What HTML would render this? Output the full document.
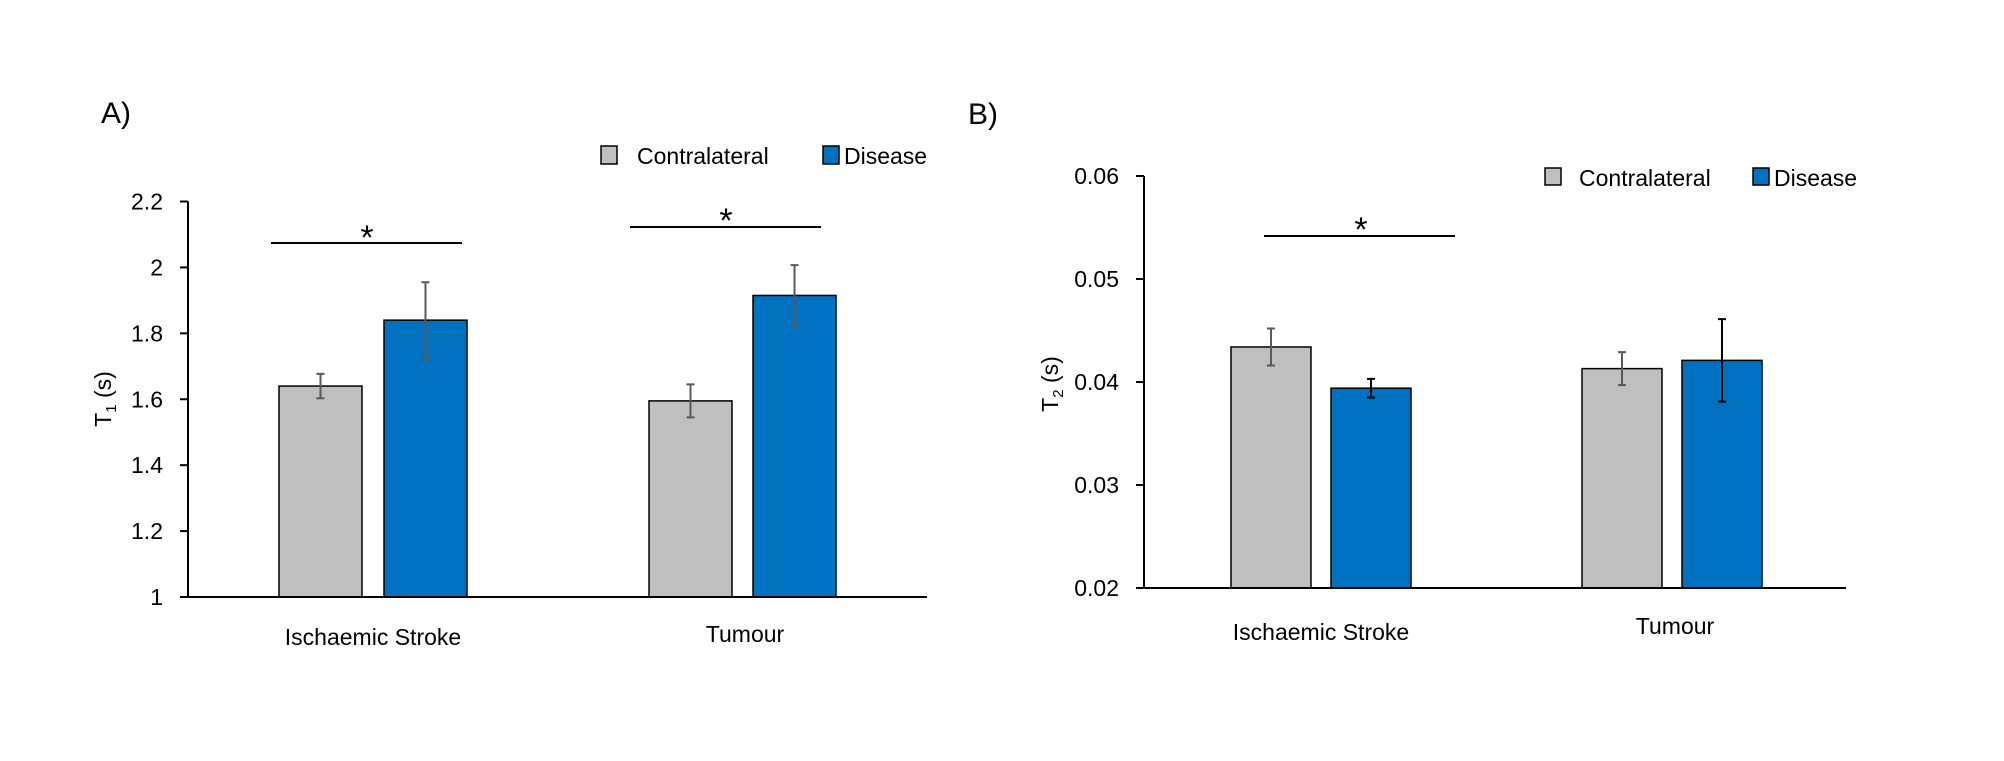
<!DOCTYPE html>
<html><head><meta charset="utf-8"><style>
html,body{margin:0;padding:0;background:#fff;}
svg{display:block;font-family:"Liberation Sans",sans-serif;}
</style></head><body>
<svg id="chart" width="2004" height="761" viewBox="0 0 2004 761" xmlns="http://www.w3.org/2000/svg">
<rect width="2004" height="761" fill="#fff"/>
<g id="gA"></g>
<g id="gB"></g>
</svg>
<script>
const categories = ["Ischaemic Stroke", "Tumour"];
const seriesNames = ["Contralateral", "Disease"];
const t1Contra = [1.64, 1.595];
const t1ContraErr = [0.037, 0.05];
const t1Disease = [1.84, 1.915];
const t1DiseaseErr = [0.115, 0.092];
const t1Ticks = [1, 1.2, 1.4, 1.6, 1.8, 2, 2.2];
const t1TickLabels = ["1", "1.2", "1.4", "1.6", "1.8", "2", "2.2"];
const t2Contra = [0.0434, 0.0413];
const t2ContraErr = [0.0018, 0.0016];
const t2Disease = [0.0394, 0.0421];
const t2DiseaseErr = [0.0009, 0.004];
const t2Ticks = [0.02, 0.03, 0.04, 0.05, 0.06];
const t2TickLabels = ["0.02", "0.03", "0.04", "0.05", "0.06"];

const NS = "http://www.w3.org/2000/svg";
function mk(parent, tag, attrs, text) {
  const e = document.createElementNS(NS, tag);
  for (const k in attrs) e.setAttribute(k, attrs[k]);
  if (text !== undefined) e.textContent = text;
  parent.appendChild(e);
  return e;
}

function drawPanel(g, cfg) {
  const y = v => cfg.y0 + (v - cfg.vmin) / (cfg.vmax - cfg.vmin) * (cfg.y1 - cfg.y0);
  const series = [[cfg.contra, cfg.contraErr, "#bfbfbf", "#595959"], [cfg.disease, cfg.diseaseErr, "#0070c0", cfg.dErrColor]];
  categories.forEach((c, i) => {
    series.forEach((s, j) => {
      const x = cfg.barX[i][j];
      const top = y(s[0][i]);
      const r = mk(g, "rect", {x: x, y: top, width: cfg.barW, height: y(cfg.vmin) - top, fill: s[2], stroke: "#000", "stroke-width": 1.5});
      
      
      const cx = x + cfg.barW / 2;
      const hi = y(s[0][i] + s[1][i]), lo = y(s[0][i] - s[1][i]);
      const eb = mk(g, "path", {d: `M${cx},${hi}V${lo}M${cx-4},${hi}H${cx+4}M${cx-4},${lo}H${cx+4}`, stroke: s[3], "stroke-width": 2, fill: "none"});
      
      
    });
    const xl = mk(g, "text", {x: cfg.labX[i], y: cfg.labY[i], "font-size": 23, "text-anchor": "middle", fill: "#000"}, c);
    
    
  });
  const ax = mk(g, "path", {d: `M${cfg.ax},${y(cfg.vmax)}V${y(cfg.vmin)}H${cfg.axEnd}`, stroke: "#000", "stroke-width": 2, fill: "none"});
  
  
  cfg.ticks.forEach((t, k) => {
    mk(g, "line", {x1: cfg.ax - 8, x2: cfg.ax, y1: y(t), y2: y(t), stroke: "#000", "stroke-width": 2});
    const tl = mk(g, "text", {x: cfg.ax - 25, y: y(t) + 8, "font-size": 23, "text-anchor": "end"}, cfg.tickLabels[k]);
    
    
  });
}

const gA = document.getElementById("gA");
drawPanel(gA, {vmin: 1, vmax: 2.2, y0: 597, y1: 201.5, ax: 188, axEnd: 927, barW: 83,
  barX: [[279, 384], [649, 753]], contra: t1Contra, contraErr: t1ContraErr, disease: t1Disease, diseaseErr: t1DiseaseErr,
  dErrColor: "#595959", ticks: t1Ticks, tickLabels: t1TickLabels, labX: [373, 745], labY: [645, 642]});
const gB = document.getElementById("gB");
drawPanel(gB, {vmin: 0.02, vmax: 0.06, y0: 588, y1: 176, ax: 1144, axEnd: 1846, barW: 80,
  barX: [[1231, 1331], [1582, 1682]], contra: t2Contra, contraErr: t2ContraErr, disease: t2Disease, diseaseErr: t2DiseaseErr,
  dErrColor: "#000", ticks: t2Ticks, tickLabels: t2TickLabels, labX: [1321, 1675], labY: [640, 634]});
</script>
<script>
(function(){
  const svg = document.getElementById("chart");
  svg.insertAdjacentHTML("beforeend", `
  <text x="101" y="123" font-size="30">A)</text>
  <text x="968" y="124" font-size="30">B)</text>
  <g>
    <rect x="601" y="146" width="16" height="18" fill="#bfbfbf" stroke="#000" stroke-width="1.5"/>
    <text x="637" y="164" font-size="23">Contralateral</text>
    <rect x="823" y="146" width="16" height="18" fill="#0070c0" stroke="#000" stroke-width="1.5"/>
    <text x="844" y="164" font-size="23">Disease</text>
  </g>
  <g>
    <rect x="1545" y="168" width="16" height="17" fill="#bfbfbf" stroke="#000" stroke-width="1.5"/>
    <text x="1579" y="186" font-size="23">Contralateral</text>
    <rect x="1753" y="168" width="16" height="17" fill="#0070c0" stroke="#000" stroke-width="1.5"/>
    <text x="1774" y="186" font-size="23">Disease</text>
  </g>
  <g><line x1="271" x2="462" y1="243" y2="243" stroke="#000" stroke-width="2"/><text x="367" y="249" font-size="34" text-anchor="middle">*</text></g>
  <g><line x1="630" x2="821" y1="227" y2="227" stroke="#000" stroke-width="2"/><text x="726" y="232" font-size="34" text-anchor="middle">*</text></g>
  <g><line x1="1264" x2="1455" y1="236" y2="236" stroke="#000" stroke-width="2"/><text x="1361" y="241" font-size="34" text-anchor="middle">*</text></g>
  <text transform="translate(111,399) rotate(-90)" font-size="23" text-anchor="middle">T<tspan font-size="15" dy="5">1</tspan><tspan dy="-5"> (s)</tspan></text>
  <text transform="translate(1058,384) rotate(-90)" font-size="23" text-anchor="middle">T<tspan font-size="15" dy="5">2</tspan><tspan dy="-5"> (s)</tspan></text>
  `);
})();
</script>
</body></html>
